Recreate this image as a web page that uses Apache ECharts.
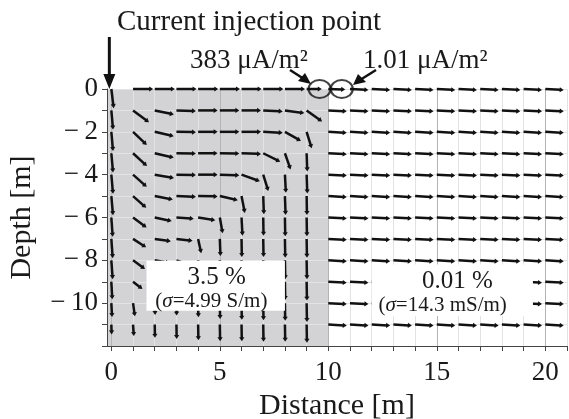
<!DOCTYPE html>
<html>
<head>
<meta charset="utf-8">
<script src="https://cdn.jsdelivr.net/npm/echarts@6/dist/echarts.min.js"></script>
<style>
  html, body { margin: 0; padding: 0; background: #fff; }
  #chart { width: 569px; height: 419px; }
</style>
</head>
<body>
<div id="chart"></div>
<script>
// grid of current-density arrows
const distances = [0, 1, 2, 3, 4, 5, 6, 7, 8, 9, 10, 11, 12, 13, 14, 15, 16, 17, 18, 19, 20];
const depths = [0, -1, -2, -3, -4, -5, -6, -7, -8, -9, -10, -11];

// arrow direction (deg, 0 = right, -90 = down), one row per depth
const angles = [
  [-83, 0, 0, 0, 0, 0, 0, 0, 0, 0, -2, -3, -3, -3, -3, -3, -3, -3, -3, -3, -3],
  [-85, -37, -12, -2, 0, 0, 0, -3, -8, -36, -3, -3, -3, -3, -3, -3, -3, -3, -3, -3, -3],
  [-85, -44, -13, -1, 0, 0, 0, -3, -30, -73, -3, -3, -3, -3, -3, -3, -3, -3, -3, -3, -3],
  [-85, -43, -13, -1, 0, -1, -2, -27, -71, -88, -3, -3, -3, -3, -3, -3, -3, -3, -3, -3, -3],
  [-85, -42, -10, -1, 0, -2, -20, -73, -87, -88, -3, -3, -3, -3, -3, -3, -3, -3, -3, -3, -3],
  [-85, -42, -11, -2, -1, -13, -79, -88, -88, -89, -3, -3, -3, -3, -3, -3, -3, -3, -3, -3, -3],
  [-86, -37, -12, -4, -9, -80, -87, -89, -89, -89, -3, -3, -3, -3, -3, -3, -3, -3, -3, -3, -3],
  [-86, -33, -8, -7, -78, -88, -89, -89, -89, -89, -3, -3, -3, -3, -3, -3, -3, -3, -3, -3, -3],
  [-86, -36, -10, -20, -85, -89, -89, -89, -89, -89, -3, -3, -3, -3, -3, -3, -3, -3, -3, -3, -3],
  [-87, -38, -60, -85, -88, -89, -89, -89, -89, -89, -3, -3, -3, -3, -3, -3, -3, -3, -3, -3, -3],
  [-87, -82, -88, -89, -89, -89, -89, -89, -89, -89, -3, -3, -3, -3, -3, -3, -3, -3, -3, -3, -3],
  [-88, -86, -89, -89, -89, -89, -89, -89, -89, -89, -3, -3, -3, -3, -3, -3, -3, -3, -3, -3, -3]
];

// arrow length in metres
const lengths = [
  [0.9, 0.93, 0.93, 0.93, 0.93, 0.93, 0.93, 0.93, 0.93, 0.7, 0.78, 0.85, 0.85, 0.85, 0.85, 0.85, 0.85, 0.85, 0.85, 0.85, 0.85],
  [0.9, 0.92, 0.9, 0.9, 0.9, 0.9, 0.9, 0.9, 0.9, 0.88, 0.85, 0.85, 0.85, 0.85, 0.85, 0.85, 0.85, 0.85, 0.85, 0.85, 0.85],
  [0.9, 0.88, 0.9, 0.9, 0.9, 0.9, 0.9, 0.9, 0.85, 0.8, 0.85, 0.85, 0.85, 0.85, 0.85, 0.85, 0.85, 0.85, 0.85, 0.85, 0.85],
  [0.9, 0.88, 0.9, 0.9, 0.9, 0.9, 0.9, 0.88, 0.8, 0.85, 0.85, 0.85, 0.85, 0.85, 0.85, 0.85, 0.85, 0.85, 0.85, 0.85, 0.85],
  [0.9, 0.85, 0.9, 0.9, 0.9, 0.9, 0.9, 0.8, 0.85, 0.88, 0.85, 0.85, 0.85, 0.85, 0.85, 0.85, 0.85, 0.85, 0.85, 0.85, 0.85],
  [0.9, 0.82, 0.85, 0.9, 0.9, 0.85, 0.8, 0.85, 0.88, 0.88, 0.85, 0.85, 0.85, 0.85, 0.85, 0.85, 0.85, 0.85, 0.85, 0.85, 0.85],
  [0.9, 0.78, 0.8, 0.8, 0.8, 0.75, 0.85, 0.85, 0.88, 0.88, 0.85, 0.85, 0.85, 0.85, 0.85, 0.85, 0.85, 0.85, 0.85, 0.85, 0.85],
  [0.9, 0.72, 0.75, 0.75, 0.68, 0.8, 0.85, 0.85, 0.88, 0.88, 0.85, 0.85, 0.85, 0.85, 0.85, 0.85, 0.85, 0.85, 0.85, 0.85, 0.85],
  [0.88, 0.68, 0.7, 0.7, 0.7, 0.8, 0.85, 0.85, 0.88, 0.88, 0.85, 0.85, 0.85, 0.85, 0.85, 0.85, 0.85, 0.85, 0.85, 0.85, 0.85],
  [0.82, 0.55, 0.6, 0.65, 0.7, 0.78, 0.82, 0.85, 0.85, 0.88, 0.85, 0.85, 0.85, 0.85, 0.85, 0.85, 0.85, 0.85, 0.85, 0.85, 0.85],
  [0.65, 0.62, 0.55, 0.58, 0.66, 0.74, 0.78, 0.8, 0.82, 0.88, 0.85, 0.85, 0.85, 0.85, 0.85, 0.85, 0.85, 0.85, 0.85, 0.85, 0.85],
  [0.46, 0.54, 0.62, 0.67, 0.73, 0.78, 0.78, 0.8, 0.8, 0.85, 0.85, 0.85, 0.85, 0.85, 0.85, 0.85, 0.85, 0.85, 0.85, 0.85, 0.85]
];

// axis ticks and labels
const xTicks = [0, 1, 2, 3, 4, 5, 6, 7, 8, 9, 10, 11, 12, 13, 14, 15, 16, 17, 18, 19, 20, 21];
const xLabels = [0, 5, 10, 15, 20];
const yTicks = [0, -1, -2, -3, -4, -5, -6, -7, -8, -9, -10, -11, -12];
const yLabels = [0, -2, -4, -6, -8, -10];

// conductive layer (shaded) and the two measured points
const layerEnd = 10;
const probePoints = [[9.6, 0], [10.62, 0]];
const zonePercent = ['3.5 %', '0.01 %'];
const zoneSigma = ['4.99 S/m', '14.3 mS/m'];

const FONT = 'Liberation Serif';
const X_MIN = -0.2;

// layout of the zone label boxes (data units)
const zoneBoxes = [
  { x0: 1.62, x1: 8.0, y0: -8.02, y1: -10.35, p: [4.85, -8.8], s: [4.61, -9.93] },
  { x0: 12.0, x1: 19.43, y0: -8.2, y1: -10.6, p: [15.95, -9.0], s: [15.27, -10.12] }
];

const arrowData = [];
depths.forEach(function (d, r) {
  distances.forEach(function (x, c) {
    arrowData.push([x, d, angles[r][c], lengths[r][c]]);
  });
});

const chart = echarts.init(document.getElementById('chart'));

const splitColors = ['#b4b4b4', '#e3e3e3', '#e3e3e3', '#e3e3e3', '#e3e3e3'];

chart.setOption({
  animation: false,
  grid: { left: 107, right: 2, top: 89, bottom: 73, outerBoundsMode: 'none', containLabel: false },
  xAxis: {
    type: 'value', min: X_MIN, max: 21, z: 3,
    name: 'Distance [m]', nameLocation: 'middle', nameGap: 38,
    nameTextStyle: { fontFamily: FONT, fontSize: 30, color: '#1a1a1a' },
    axisLine: { show: true, onZero: false, lineStyle: { color: '#444', width: 1 } },
    axisTick: { show: true, customValues: xTicks, length: 5, lineStyle: { color: '#444' } },
    axisLabel: { customValues: xLabels, fontFamily: FONT, fontSize: 27, color: '#1a1a1a', margin: 13 },
    splitLine: { show: true, lineStyle: { color: splitColors, width: 1 } }
  },
  yAxis: {
    type: 'value', min: -12, max: 0, z: 3,
    name: 'Depth [m]', nameLocation: 'middle', nameGap: 70,
    nameTextStyle: { fontFamily: FONT, fontSize: 30, color: '#1a1a1a' },
    axisLine: { show: true, onZero: false, lineStyle: { color: '#444', width: 1 } },
    axisTick: { show: true, customValues: yTicks, length: 5, lineStyle: { color: '#444' } },
    axisLabel: {
      customValues: yLabels, fontFamily: FONT, fontSize: 27, color: '#1a1a1a', margin: 9,
      formatter: function (v) { return v < 0 ? '\u2212\u2009' + Math.abs(v) : String(v); }
    },
    splitLine: { show: true, lineStyle: { color: '#e3e3e3', width: 1 } }
  },
  series: [
    {
      // shaded high-conductivity layer
      type: 'custom', z: 1, silent: true,
      data: [[X_MIN, layerEnd]],
      renderItem: function (params, api) {
        const a = api.coord([api.value(0), 0]);
        const b = api.coord([api.value(1), -12]);
        return { type: 'rect', shape: { x: a[0], y: a[1], width: b[0] - a[0], height: b[1] - a[1] },
          style: { fill: '#d3d3d6' } };
      }
    },
    {
      type: 'custom', z: 4, clip: false, silent: true,
      data: arrowData,
      renderItem: function (params, api) {
        const x = api.value(0), y = api.value(1);
        const ang = api.value(2) * Math.PI / 180, len = api.value(3);
        const p0 = api.coord([x, y]);
        const p1 = api.coord([x + len * Math.cos(ang), y + len * Math.sin(ang)]);
        const dx = p1[0] - p0[0], dy = p1[1] - p0[1];
        const L = Math.sqrt(dx * dx + dy * dy) || 1;
        const ux = dx / L, uy = dy / L;
        const h = 4, w = 2.6;
        const bx = p1[0] - ux * h, by = p1[1] - uy * h;
        return {
          type: 'group',
          children: [
            { type: 'line', shape: { x1: p0[0], y1: p0[1], x2: bx + ux, y2: by + uy },
              style: { stroke: '#111', lineWidth: 2.5 } },
            { type: 'polygon', shape: { points: [[p1[0], p1[1]], [bx - uy * w, by + ux * w], [bx + uy * w, by - ux * w]] },
              style: { fill: '#111' } }
          ]
        };
      }
    },
    {
      // white label boxes for both zones
      type: 'custom', z: 5, clip: false, silent: true,
      data: [0, 1],
      renderItem: function (params, api) {
        const i = params.dataIndex, b = zoneBoxes[i];
        const a = api.coord([b.x0, b.y0]), c = api.coord([b.x1, b.y1]);
        const p = api.coord(b.p), s = api.coord(b.s);
        return {
          type: 'group',
          children: [
            { type: 'rect', shape: { x: a[0], y: a[1], width: c[0] - a[0], height: c[1] - a[1] },
              style: { fill: '#fff' } },
            { type: 'text', x: p[0], y: p[1],
              style: { text: zonePercent[i], fill: '#1a1a1a', font: '25px "' + FONT + '"', align: 'center', verticalAlign: 'middle' } },
            { type: 'text', x: s[0], y: s[1],
              style: {
                text: '{n|(}{g|\u03c3}{n|=' + zoneSigma[i] + ')}',
                align: 'center', verticalAlign: 'middle',
                rich: {
                  n: { fontFamily: FONT, fontSize: 21, fill: '#1a1a1a' },
                  g: { fontFamily: FONT, fontSize: 21, fontStyle: 'italic', fill: '#1a1a1a' }
                }
              } }
          ]
        };
      }
    },
    {
      // circles marking the two quoted values
      type: 'scatter', z: 6, clip: false, silent: true,
      data: probePoints,
      symbol: 'circle', symbolSize: [22, 18],
      itemStyle: { color: 'rgba(0,0,0,0)', borderColor: '#111', borderWidth: 2 }
    }
  ]
});

// annotations above the plot
const inj = chart.convertToPixel({ gridIndex: 0 }, [0, 0]);
chart.setOption({
  graphic: [
    { type: 'text', left: 117, top: 8,
      style: { text: 'Current injection point', font: '29px "' + FONT + '"', fill: '#1a1a1a' } },
    { type: 'line', shape: { x1: inj[0] - 2, y1: 37, x2: inj[0] - 2, y2: 76 }, style: { stroke: '#111', lineWidth: 3 } },
    { type: 'polygon', shape: { points: [[inj[0] - 8, 74], [inj[0] + 4, 74], [inj[0] - 2, 89]] }, style: { fill: '#111' } },
    { type: 'text', x: 190, y: 61,
      style: { text: '383 \u03bcA/m\u00b2', font: '27px "' + FONT + '"', fill: '#1a1a1a', verticalAlign: 'middle' } },
    { type: 'text', x: 363, y: 61,
      style: { text: '1.01 \u03bcA/m\u00b2', font: '27px "' + FONT + '"', fill: '#1a1a1a', verticalAlign: 'middle' } },
    { type: 'line', shape: { x1: 290, y1: 70, x2: 304, y2: 79 }, style: { stroke: '#111', lineWidth: 2.5 } },
    { type: 'polygon', shape: { points: [[311, 84], [298, 81], [305, 73]] }, style: { fill: '#111' } },
    { type: 'line', shape: { x1: 376, y1: 70, x2: 360, y2: 80 }, style: { stroke: '#111', lineWidth: 2.5 } },
    { type: 'polygon', shape: { points: [[353, 85], [358, 74], [366, 82]] }, style: { fill: '#111' } }
  ]
});
</script>
</body>
</html>
